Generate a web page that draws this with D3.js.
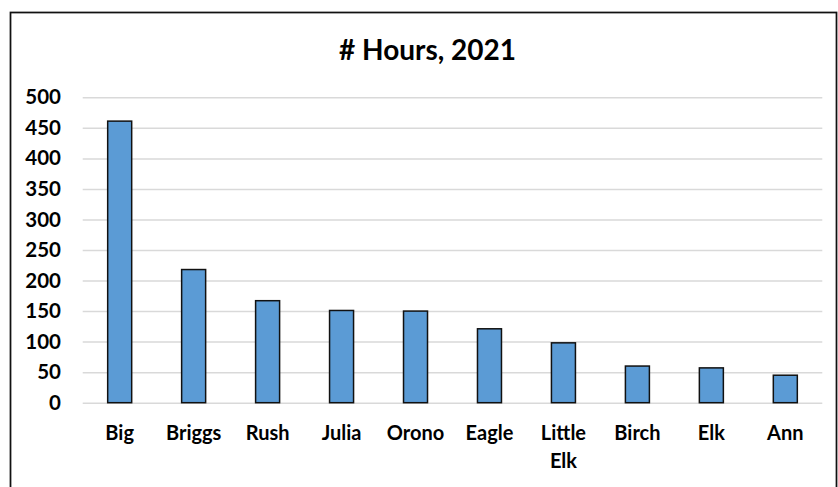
<!DOCTYPE html>
<html>
<head>
<meta charset="utf-8">
<script src="https://cdn.jsdelivr.net/npm/d3@7"></script>
<style>
  html, body { margin: 0; padding: 0; background: #fff; }
  svg { display: block; }
  text { font-family: Lato, "Open Sans", sans-serif; font-weight: bold; fill: #000; }
</style>
</head>
<body>
<svg id="chart" width="838" height="487"></svg>
<script>
const title = "# Hours, 2021";
const categories = ["Big", "Briggs", "Rush", "Julia", "Orono", "Eagle", "Little Elk", "Birch", "Elk", "Ann"];
const hours = [461, 218, 167, 151, 150, 121, 98, 60, 57, 45];
const yTicks = [0, 50, 100, 150, 200, 250, 300, 350, 400, 450, 500];

const W = 838, H = 487;
const plot = { left: 82.7, right: 822.3, top: 97.3, bottom: 402.7 };

const svg = d3.select("#chart");

svg.append("rect")
  .attr("x", 10.5).attr("y", 12.5)
  .attr("width", 826).attr("height", 500)
  .attr("fill", "#fff")
  .attr("stroke", "#111").attr("stroke-width", 1.75);

svg.append("text")
  .attr("x", 427.5).attr("y", 59.5)
  .attr("text-anchor", "middle")
  .style("font-size", "28px")
  .text(title);

const x = d3.scaleBand()
  .domain(categories)
  .range([plot.left, plot.right])
  .paddingInner(0.6755)
  .paddingOuter(0.6755 / 2);

const y = d3.scaleLinear()
  .domain([0, 500])
  .range([plot.bottom, plot.top]);

// gridlines + y labels
const yAxis = svg.append("g")
  .attr("transform", `translate(${plot.left},0)`)
  .call(d3.axisLeft(y).tickValues(yTicks).tickSize(-(plot.right - plot.left)).tickPadding(21.7));
yAxis.select(".domain").remove();
yAxis.selectAll(".tick line")
  .attr("stroke", "#d9d9d9").attr("stroke-width", 1.5);
yAxis.selectAll(".tick text")
  .style("font-size", "20.5px")
  .attr("fill", "#000");

// bars
svg.append("g")
  .selectAll("rect")
  .data(categories)
  .join("rect")
  .attr("x", d => x(d))
  .attr("width", x.bandwidth())
  .attr("y", (d, i) => y(hours[i]))
  .attr("height", (d, i) => y(0) - y(hours[i]))
  .attr("fill", "#5b9bd5")
  .attr("stroke", "#111")
  .attr("stroke-width", 1.5);

// x labels
const xAxis = svg.append("g")
  .attr("transform", `translate(0,${plot.bottom})`)
  .call(d3.axisBottom(x).tickSize(0).tickPadding(0));
xAxis.select(".domain").remove();
xAxis.selectAll(".tick text")
  .style("font-size", "20px")
  .attr("fill", "#000")
  .attr("dy", null)
  .attr("y", 0)
  .each(function(d) {
    const t = d3.select(this);
    const words = d.split(" ");
    t.text(null);
    words.forEach((w, i) => {
      t.append("tspan")
        .attr("x", 0)
        .attr("y", 37.8 + i * 28)
        .text(w);
    });
  });
</script>
</body>
</html>
